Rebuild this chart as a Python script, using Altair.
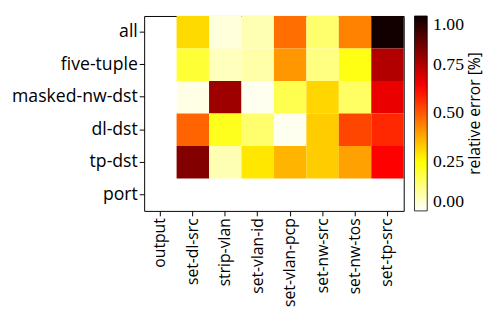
import altair as alt
import pandas as pd

rows = ["all", "five-tuple", "masked-nw-dst", "dl-dst", "tp-dst", "port"]
cols = ["output", "set-dl-src", "strip-vlan", "set-vlan-id", "set-vlan-pcp",
        "set-nw-src", "set-nw-tos", "set-tp-src"]

# relative error per (row, column); None = no value
v_all = [None, 0.31, 0.035, 0.075, 0.47, 0.145, 0.44, 0.99]
v_five = [None, 0.20, 0.065, 0.085, 0.41, 0.125, 0.235, 0.75]
v_masked = [None, 0.025, 0.78, 0.015, 0.175, 0.315, 0.155, 0.665]
v_dl = [None, 0.485, 0.225, 0.145, 0.015, 0.33, 0.53, 0.575]
v_tp = [None, 0.82, 0.075, 0.29, 0.365, 0.33, 0.395, 0.635]
v_port = [None] * 8

legend_title = "relative error [%]"

values = [v_all, v_five, v_masked, v_dl, v_tp, v_port]
records = []
for r, vals in zip(rows, values):
    for c, v in zip(cols, vals):
        if v is not None:
            records.append({"row": r, "col": c, "val": v})
df = pd.DataFrame(records)

font_sans = "Open Sans"
font_serif = "Liberation Serif"

heat = alt.Chart(df).mark_rect().encode(
    x=alt.X("col:N", sort=cols, scale=alt.Scale(domain=cols, paddingInner=0, paddingOuter=0),
            axis=alt.Axis(title=None, labelAngle=-90, labelFont=font_sans, labelFontSize=16,
                          labelColor="black", domain=False, tickColor="black", tickSize=5,
                          labelPadding=2)),
    y=alt.Y("row:N", sort=rows, scale=alt.Scale(domain=rows, paddingInner=0, paddingOuter=0),
            axis=alt.Axis(title=None, labelFont=font_sans, labelFontSize=18, labelColor="black",
                          domain=False, tickColor="black", tickSize=5, labelPadding=2)),
    color=alt.Color("val:Q",
                    scale=alt.Scale(domain=[0, 0.254, 0.635, 1.0],
                                    range=["#ffffff", "#ffff00", "#ff0000", "#0b0000"],
                                    interpolate="rgb"),
                    legend=alt.Legend(title=None, orient="none", legendX=276, legendY=0,
                                      gradientLength=199, gradientThickness=13,
                                      gradientStrokeColor="black", gradientStrokeWidth=0.8,
                                      values=[0, 0.25, 0.5, 0.75, 1.0], format=".2f",
                                      labelFont=font_serif, labelFontSize=18, labelColor="black",
                                      labelOffset=6)),
)

title_text = alt.Chart(pd.DataFrame({"t": [legend_title]})).mark_text(
    angle=270, font=font_sans, fontSize=16, color="black", align="center", baseline="middle"
).encode(x=alt.value(338), y=alt.value(99.5), text="t:N")

chart = alt.layer(heat, title_text).properties(
    width=265, height=199,
    padding={"left": 3, "top": 5, "right": 3, "bottom": 0},
).configure_view(stroke="black", strokeWidth=1)

chart.save("out.html", embed_options={"renderer": "svg", "actions": False})
